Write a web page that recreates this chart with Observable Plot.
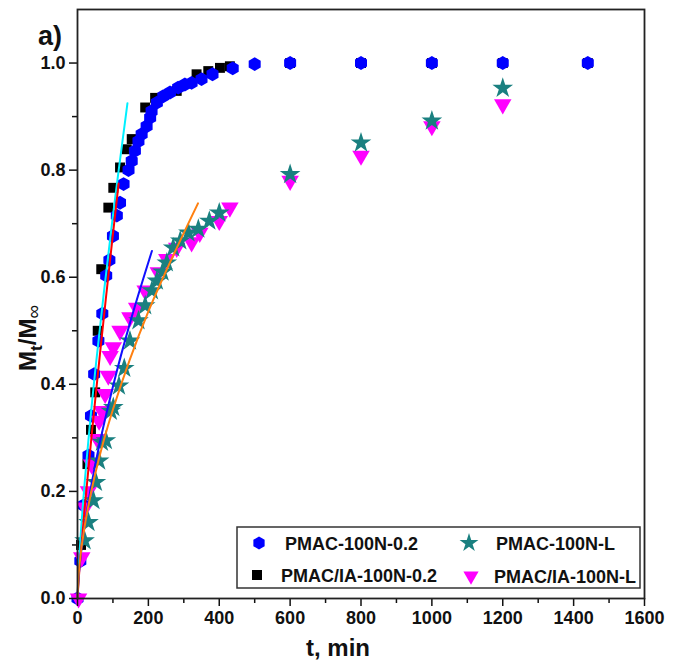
<!DOCTYPE html>
<html><head><meta charset="utf-8">
<script src="https://cdn.jsdelivr.net/npm/d3@7"></script>
<script src="https://cdn.jsdelivr.net/npm/@observablehq/plot@0.6"></script>
<style>
body{margin:0;background:#fff;}
#wrap{position:relative;width:678px;height:668px;}
</style></head><body><div id="wrap"></div>
<script>
// Series names
const seriesNames = ["PMAC-100N-0.2", "PMAC-100N-L", "PMAC/IA-100N-0.2", "PMAC/IA-100N-L"];

// PMAC-100N-0.2 (blue hexagons)
const tBlue = [0, 8, 17, 31, 38, 47, 59, 70, 81, 90, 100, 111, 120, 130, 144, 153, 162, 172, 181, 195, 205, 209, 224, 242, 261, 284, 303, 322, 350, 381, 438, 500, 600, 800, 1000, 1200, 1440];
const mBlue = [0, 0.07, 0.174, 0.267, 0.341, 0.419, 0.481, 0.532, 0.603, 0.632, 0.677, 0.715, 0.739, 0.774, 0.80, 0.817, 0.836, 0.854, 0.867, 0.882, 0.898, 0.91, 0.926, 0.938, 0.945, 0.954, 0.96, 0.963, 0.97, 0.979, 0.99, 0.998, 1.0, 1.0, 1.0, 1.0, 1.0];

// PMAC/IA-100N-0.2 (black squares)
const tBlack = [10, 28, 38, 50, 57, 67, 87, 101, 120, 139, 153, 191, 219, 280, 336, 369, 402, 430, 600, 800, 1000, 1200, 1440];
const mBlack = [0.10, 0.251, 0.315, 0.385, 0.50, 0.615, 0.73, 0.767, 0.805, 0.839, 0.858, 0.917, 0.935, 0.948, 0.979, 0.985, 0.991, 0.994, 1.0, 1.0, 1.0, 1.0, 1.0];

// PMAC-100N-L (teal stars)
const tTeal = [20, 31, 45, 52, 61, 69, 80, 94, 101, 117, 132, 148, 172, 191, 210, 224, 240, 252, 270, 290, 313, 341, 372, 400, 600, 800, 1000, 1200];
const mTeal = [0.108, 0.142, 0.183, 0.217, 0.257, 0.292, 0.295, 0.35, 0.357, 0.397, 0.43, 0.481, 0.519, 0.547, 0.575, 0.593, 0.61, 0.627, 0.655, 0.668, 0.683, 0.69, 0.705, 0.72, 0.792, 0.851, 0.892, 0.953];

// PMAC/IA-100N-L (magenta down-triangles)
const tMag = [3, 12, 22, 31, 40, 56, 61, 69, 78, 87, 92, 101, 120, 148, 167, 191, 228, 252, 280, 322, 345, 400, 430, 600, 800, 1000, 1200];
const mMag = [0, 0.077, 0.17, 0.2, 0.25, 0.298, 0.332, 0.35, 0.382, 0.416, 0.453, 0.469, 0.50, 0.525, 0.543, 0.575, 0.609, 0.634, 0.655, 0.665, 0.683, 0.705, 0.73, 0.78, 0.827, 0.882, 0.923];

// Fit lines
const tCyan = [0, 5, 20, 50, 100, 141];
const mCyan = [0, 0.076, 0.214, 0.425, 0.715, 0.925];
const tRed = [0, 5, 20, 50, 80, 116];
const mRed = [0, 0.05, 0.167, 0.371, 0.56, 0.775];
const tBlueFit = [0, 5, 20, 50, 100, 150, 210];
const mBlueFit = [0, 0.054, 0.135, 0.25, 0.396, 0.519, 0.649];
const tOrange = [0, 5, 20, 50, 100, 200, 340];
const mOrange = [0, 0.059, 0.134, 0.233, 0.353, 0.536, 0.738];

// Axis ticks
const xMajor = [0, 200, 400, 600, 800, 1000, 1200, 1400, 1600];
const xMinor = [100, 300, 500, 700, 900, 1100, 1300, 1500];
const yMajor = [0, 0.2, 0.4, 0.6, 0.8, 1.0];
const yMinor = [0.1, 0.3, 0.5, 0.7, 0.9];

const rows = (ts, ms) => ts.map((t, i) => ({t, m: ms[i]}));
const FONT = "'Liberation Sans', Arial, sans-serif";

const plot = Plot.plot({
  width: 678, height: 668,
  marginLeft: 77, marginRight: 34, marginTop: 9, marginBottom: 70,
  x: {domain: [0, 1600]},
  y: {domain: [0, 1.1]},
  style: {fontFamily: FONT, fontSize: "18px", fontWeight: "bold", color: "#111", background: "#fff"},
  marks: [
    Plot.dot(rows(tBlack, mBlack), {x: "t", y: "m", symbol: "square", fill: "#000", r: 5.6}),
    Plot.dot(rows(tBlue, mBlue), {x: "t", y: "m", symbol: "hexagon", fill: "#0000ff", r: 6}),
    Plot.dot(rows(tMag, mMag), {x: "t", y: "m", symbol: "triangle", fill: "#ff00ff", r: 6.5, rotate: 180}),
    Plot.dot(rows(tTeal, mTeal), {x: "t", y: "m", symbol: "star", fill: "#1a8080", r: 6.5}),
    Plot.line(rows(tCyan, mCyan), {x: "t", y: "m", stroke: "#00f0ff", strokeWidth: 2, curve: "catmull-rom"}),
    Plot.line(rows(tRed, mRed), {x: "t", y: "m", stroke: "#ff0000", strokeWidth: 2, curve: "catmull-rom"}),
    Plot.line(rows(tBlueFit, mBlueFit), {x: "t", y: "m", stroke: "#1010ff", strokeWidth: 2, curve: "catmull-rom"}),
    Plot.line(rows(tOrange, mOrange), {x: "t", y: "m", stroke: "#ff8010", strokeWidth: 2, curve: "catmull-rom"}),
    Plot.axisX({ticks: xMajor, tickSize: 8, tickPadding: 5, strokeWidth: 1.5, label: null, tickFormat: d => String(d)}),
    Plot.axisX({ticks: xMinor, tickSize: 5, strokeWidth: 1.5, label: null, tickFormat: () => ""}),
    Plot.axisY({ticks: yMajor, tickSize: 8, tickPadding: 4, strokeWidth: 1.5, label: null, tickFormat: d3.format(".1f")}),
    Plot.axisY({ticks: yMinor, tickSize: 5, strokeWidth: 1.5, label: null, tickFormat: () => ""}),
    Plot.frame({stroke: "#222", strokeWidth: 1.8})
  ]
});
document.getElementById("wrap").appendChild(plot);

const svg = d3.select(plot);
// "a)" label
svg.append("text").attr("x", 38).attr("y", 45).attr("text-anchor", "start").attr("font-family", FONT).attr("font-weight", "bold")
  .attr("font-size", 27).attr("fill", "#111").text("a)");
// x label
svg.append("text").attr("x", 338).attr("y", 656).attr("text-anchor", "middle").attr("font-family", FONT)
  .attr("font-weight", "bold").attr("font-size", 24).attr("fill", "#111").text("t, min");
// y label
const yl = svg.append("text").attr("transform", "translate(36,338) rotate(-90)").attr("text-anchor", "middle")
  .attr("font-family", FONT).attr("font-weight", "bold").attr("font-size", 24).attr("fill", "#111");
yl.append("tspan").text("M");
yl.append("tspan").attr("dy", 6).attr("font-size", 17).text("t");
yl.append("tspan").attr("dy", -6).text("/M");
yl.append("tspan").attr("dy", 4).attr("font-size", 19).attr("font-weight", "normal").text("\u221E");

// Legend
const lg = svg.append("g").attr("text-anchor", "start");
lg.append("rect").attr("x", 237).attr("y", 527).attr("width", 403).attr("height", 61)
  .attr("fill", "#fff").attr("stroke", "#333").attr("stroke-width", 1.5);
const legendItems = [
  {name: seriesNames[0], type: "hexagon", fill: "#0000ff", sx: 259, tx: 285, y: 543},
  {name: seriesNames[1], type: "star", fill: "#1a8080", sx: 469, tx: 496, y: 543},
  {name: seriesNames[2], type: "square", fill: "#000", sx: 257, tx: 281, y: 575},
  {name: seriesNames[3], type: "triangle", fill: "#ff00ff", sx: 471, tx: 494, y: 576}
];
const symMap = {star: d3.symbolStar, square: d3.symbolSquare, triangle: d3.symbolTriangle};
for (const it of legendItems) {
  let path;
  if (it.type === "hexagon") {
    const r = 6.5, rx = r * Math.sqrt(3) / 2;
    path = `M0,${-r}L${rx},${-r/2}L${rx},${r/2}L0,${r}L${-rx},${r/2}L${-rx},${-r/2}Z`;
  } else {
    path = d3.symbol(symMap[it.type], it.type === "star" ? 110 : 100)();
  }
  lg.append("path").attr("d", path).attr("fill", it.fill)
    .attr("transform", `translate(${it.sx},${it.y})` + (it.type === "triangle" ? " rotate(180)" : ""));
  lg.append("text").attr("x", it.tx).attr("y", it.y + 6.5).attr("text-anchor", "start").attr("font-family", FONT).attr("font-weight", "bold")
    .attr("font-size", 18).attr("fill", "#111").text(it.name);
}
</script>
</body></html>
